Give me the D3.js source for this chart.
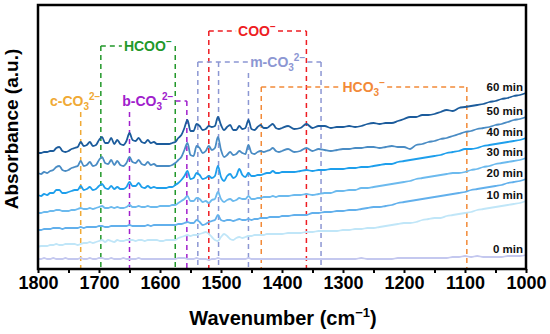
<!DOCTYPE html>
<html lang="en">
  <head>
    <meta charset="UTF-8" />
    <title>In situ DRIFTS spectra</title>
    <script src="https://d3js.org/d3.v7.min.js"></script>
    <style>
      body { margin: 0; background: #fff; }
      svg text { font-family: "Liberation Sans", Arial, sans-serif; font-weight: bold; }
    </style>
  </head>
  <body>
    <div class="chart"></div>
    <script>
      // wavenumber grid (cm-1)
      const wavenumbers = [
        1800, 1795, 1790, 1785, 1780, 1775, 1770, 1765, 1760, 1755,
        1750, 1745, 1740, 1735, 1730, 1725, 1720, 1715, 1710, 1705,
        1700, 1695, 1690, 1685, 1680, 1675, 1670, 1665, 1660, 1655,
        1650, 1645, 1640, 1635, 1630, 1625, 1620, 1615, 1610, 1605,
        1600, 1595, 1590, 1585, 1580, 1575, 1570, 1565, 1560, 1555,
        1550, 1545, 1540, 1535, 1530, 1525, 1520, 1515, 1510, 1505,
        1500, 1495, 1490, 1485, 1480, 1475, 1470, 1465, 1460, 1455,
        1450, 1445, 1440, 1435, 1430, 1425, 1420, 1415, 1410, 1405,
        1400, 1390, 1380, 1370, 1360, 1350, 1340, 1330, 1320, 1310,
        1300, 1290, 1280, 1270, 1260, 1250, 1240, 1230, 1220, 1210,
        1200, 1190, 1180, 1170, 1160, 1150, 1140, 1130, 1120, 1110,
        1100, 1090, 1080, 1070, 1060, 1050, 1040, 1030, 1020, 1010,
        1000,
      ];

      const times = ["0 min", "10 min", "20 min", "30 min", "40 min", "50 min", "60 min"];

      // absorbance (a.u.), same order as wavenumbers
      const abs0 = [
        0.10, 0.10, 0.11, 0.10, 0.10, 0.11, 0.10, 0.10, 0.10, 0.11,
        0.10, 0.10, 0.10, 0.10, 0.11, 0.10, 0.10, 0.11, 0.10, 0.10,
        0.11, 0.11, 0.10, 0.10, 0.11, 0.10, 0.10, 0.10, 0.11, 0.10,
        0.10, 0.10, 0.10, 0.11, 0.10, 0.10, 0.10, 0.10, 0.10, 0.10,
        0.10, 0.10, 0.10, 0.10, 0.10, 0.10, 0.11, 0.11, 0.11, 0.10,
        0.10, 0.10, 0.11, 0.10, 0.10, 0.10, 0.09, 0.10, 0.10, 0.11,
        0.10, 0.10, 0.10, 0.10, 0.10, 0.10, 0.10, 0.10, 0.10, 0.11,
        0.10, 0.10, 0.10, 0.10, 0.10, 0.10, 0.10, 0.10, 0.10, 0.10,
        0.10, 0.10, 0.10, 0.10, 0.10, 0.10, 0.10, 0.10, 0.10, 0.10,
        0.10, 0.10, 0.10, 0.11, 0.10, 0.10, 0.10, 0.10, 0.10, 0.11,
        0.11, 0.11, 0.11, 0.11, 0.11, 0.11, 0.11, 0.11, 0.12, 0.12,
        0.13, 0.12, 0.13, 0.12, 0.12, 0.12, 0.12, 0.13, 0.13, 0.13,
        0.14,
      ];
      const abs10 = [
        0.22, 0.23, 0.23, 0.23, 0.24, 0.24, 0.25, 0.24, 0.24, 0.25,
        0.25, 0.25, 0.25, 0.24, 0.25, 0.26, 0.26, 0.27, 0.26, 0.27,
        0.28, 0.29, 0.27, 0.29, 0.28, 0.27, 0.29, 0.28, 0.28, 0.29,
        0.29, 0.29, 0.28, 0.29, 0.29, 0.28, 0.29, 0.29, 0.29, 0.29,
        0.28, 0.28, 0.29, 0.29, 0.29, 0.29, 0.31, 0.32, 0.33, 0.34,
        0.33, 0.34, 0.34, 0.35, 0.36, 0.37, 0.35, 0.32, 0.29, 0.28,
        0.32, 0.35, 0.33, 0.30, 0.29, 0.31, 0.32, 0.31, 0.32, 0.33,
        0.33, 0.34, 0.34, 0.34, 0.34, 0.35, 0.35, 0.35, 0.35, 0.35,
        0.35, 0.36, 0.36, 0.36, 0.37, 0.37, 0.38, 0.38, 0.38, 0.38,
        0.39, 0.39, 0.40, 0.40, 0.41, 0.41, 0.42, 0.43, 0.44, 0.45,
        0.46, 0.46, 0.47, 0.49, 0.50, 0.51, 0.51, 0.53, 0.54, 0.55,
        0.56, 0.57, 0.59, 0.60, 0.61, 0.62, 0.63, 0.64, 0.65, 0.66,
        0.68,
      ];
      const abs20 = [
        0.39, 0.39, 0.40, 0.40, 0.40, 0.41, 0.41, 0.41, 0.40, 0.41,
        0.41, 0.41, 0.41, 0.41, 0.42, 0.41, 0.42, 0.42, 0.42, 0.42,
        0.43, 0.43, 0.42, 0.42, 0.43, 0.43, 0.43, 0.43, 0.43, 0.43,
        0.44, 0.43, 0.43, 0.43, 0.43, 0.43, 0.44, 0.43, 0.44, 0.44,
        0.44, 0.44, 0.44, 0.44, 0.44, 0.44, 0.45, 0.45, 0.46, 0.47,
        0.46, 0.46, 0.49, 0.47, 0.44, 0.45, 0.47, 0.48, 0.49, 0.54,
        0.49, 0.48, 0.49, 0.49, 0.48, 0.49, 0.50, 0.49, 0.49, 0.50,
        0.49, 0.50, 0.50, 0.51, 0.51, 0.51, 0.52, 0.52, 0.52, 0.52,
        0.53, 0.53, 0.54, 0.54, 0.54, 0.56, 0.56, 0.57, 0.57, 0.58,
        0.58, 0.59, 0.59, 0.60, 0.61, 0.62, 0.62, 0.63, 0.64, 0.66,
        0.67, 0.68, 0.69, 0.70, 0.71, 0.72, 0.73, 0.74, 0.75, 0.76,
        0.77, 0.79, 0.80, 0.81, 0.82, 0.83, 0.84, 0.86, 0.87, 0.88,
        0.90,
      ];
      const abs30 = [
        0.56, 0.56, 0.57, 0.57, 0.58, 0.58, 0.59, 0.59, 0.58, 0.58,
        0.58, 0.59, 0.59, 0.60, 0.61, 0.60, 0.60, 0.61, 0.60, 0.61,
        0.62, 0.63, 0.61, 0.61, 0.62, 0.61, 0.62, 0.61, 0.61, 0.62,
        0.64, 0.62, 0.62, 0.63, 0.62, 0.62, 0.63, 0.62, 0.62, 0.62,
        0.63, 0.63, 0.63, 0.63, 0.64, 0.64, 0.66, 0.68, 0.70, 0.73,
        0.68, 0.68, 0.71, 0.70, 0.67, 0.68, 0.66, 0.69, 0.70, 0.77,
        0.70, 0.67, 0.69, 0.70, 0.68, 0.69, 0.71, 0.70, 0.70, 0.73,
        0.70, 0.70, 0.71, 0.71, 0.72, 0.72, 0.72, 0.73, 0.72, 0.73,
        0.73, 0.73, 0.74, 0.74, 0.75, 0.74, 0.75, 0.76, 0.76, 0.78,
        0.78, 0.79, 0.79, 0.81, 0.81, 0.82, 0.83, 0.84, 0.85, 0.86,
        0.87, 0.88, 0.90, 0.91, 0.92, 0.93, 0.94, 0.95, 0.96, 0.96,
        0.97, 0.99, 1.00, 1.02, 1.03, 1.05, 1.06, 1.07, 1.08, 1.09,
        1.11,
      ];
      const abs40 = [
        0.74, 0.73, 0.75, 0.74, 0.76, 0.76, 0.79, 0.79, 0.76, 0.76,
        0.77, 0.78, 0.79, 0.79, 0.83, 0.79, 0.80, 0.82, 0.79, 0.80,
        0.83, 0.85, 0.81, 0.80, 0.83, 0.80, 0.82, 0.80, 0.80, 0.82,
        0.87, 0.83, 0.83, 0.86, 0.82, 0.81, 0.83, 0.81, 0.82, 0.81,
        0.81, 0.81, 0.81, 0.82, 0.82, 0.84, 0.86, 0.89, 0.93, 0.98,
        0.90, 0.91, 0.96, 0.94, 0.90, 0.91, 0.93, 0.91, 0.93, 1.03,
        0.92, 0.88, 0.93, 0.95, 0.91, 0.93, 1.00, 0.94, 0.92, 0.96,
        0.93, 0.93, 0.94, 0.94, 0.95, 0.96, 0.96, 0.98, 0.96, 0.96,
        0.97, 0.97, 0.97, 0.98, 0.99, 0.98, 0.99, 0.99, 1.00, 1.00,
        1.00, 1.01, 1.01, 1.02, 1.02, 1.03, 1.04, 1.05, 1.05, 1.07,
        1.08, 1.09, 1.10, 1.11, 1.12, 1.13, 1.14, 1.16, 1.17, 1.18,
        1.20, 1.20, 1.21, 1.23, 1.24, 1.25, 1.26, 1.27, 1.28, 1.29,
        1.31,
      ];
      const abs50 = [
        0.96, 0.95, 0.97, 0.96, 0.98, 0.99, 1.02, 1.03, 0.99, 0.98,
        0.99, 1.01, 1.02, 1.03, 1.08, 1.03, 1.04, 1.07, 1.03, 1.04,
        1.09, 1.12, 1.06, 1.05, 1.09, 1.04, 1.08, 1.04, 1.03, 1.06,
        1.12, 1.07, 1.06, 1.09, 1.05, 1.04, 1.07, 1.04, 1.05, 1.03,
        1.03, 1.03, 1.03, 1.03, 1.04, 1.06, 1.09, 1.12, 1.19, 1.26,
        1.14, 1.13, 1.23, 1.21, 1.16, 1.18, 1.23, 1.19, 1.21, 1.32,
        1.19, 1.12, 1.14, 1.17, 1.14, 1.15, 1.18, 1.16, 1.15, 1.24,
        1.16, 1.15, 1.17, 1.18, 1.17, 1.18, 1.19, 1.21, 1.18, 1.17,
        1.18, 1.20, 1.17, 1.18, 1.21, 1.18, 1.20, 1.19, 1.18, 1.19,
        1.20, 1.20, 1.21, 1.21, 1.22, 1.22, 1.21, 1.22, 1.23, 1.22,
        1.22, 1.20, 1.24, 1.25, 1.27, 1.28, 1.30, 1.31, 1.33, 1.35,
        1.37, 1.38, 1.40, 1.41, 1.42, 1.44, 1.45, 1.47, 1.49, 1.50,
        1.52,
      ];
      const abs60 = [
        1.16, 1.16, 1.17, 1.17, 1.18, 1.18, 1.21, 1.22, 1.18, 1.17,
        1.18, 1.20, 1.21, 1.22, 1.27, 1.23, 1.24, 1.27, 1.23, 1.24,
        1.29, 1.32, 1.26, 1.26, 1.31, 1.25, 1.29, 1.25, 1.24, 1.28,
        1.36, 1.29, 1.28, 1.31, 1.27, 1.26, 1.29, 1.26, 1.27, 1.25,
        1.25, 1.25, 1.25, 1.25, 1.26, 1.27, 1.31, 1.34, 1.41, 1.49,
        1.38, 1.38, 1.45, 1.43, 1.39, 1.40, 1.43, 1.42, 1.43, 1.52,
        1.44, 1.39, 1.42, 1.44, 1.39, 1.39, 1.43, 1.40, 1.41, 1.49,
        1.40, 1.39, 1.42, 1.44, 1.41, 1.41, 1.43, 1.45, 1.41, 1.40,
        1.41, 1.43, 1.40, 1.41, 1.45, 1.41, 1.43, 1.43, 1.41, 1.42,
        1.42, 1.43, 1.42, 1.43, 1.45, 1.46, 1.45, 1.46, 1.46, 1.48,
        1.50, 1.52, 1.52, 1.54, 1.54, 1.55, 1.57, 1.59, 1.58, 1.61,
        1.62, 1.63, 1.64, 1.65, 1.67, 1.68, 1.70, 1.71, 1.73, 1.74,
        1.76,
      ];
      const spectra = [abs0, abs10, abs20, abs30, abs40, abs50, abs60];

      // band assignments: label pieces and peak positions (cm-1)
      const bandLabels = [
        [["c-CO"], ["3", "sub"], ["2−", "sup"]],
        [["HCOO"], ["−", "sup"]],
        [["b-CO"], ["3", "sub"], ["2−", "sup"]],
        [["COO"], ["−", "sup"]],
        [["m-CO"], ["3", "sub"], ["2−", "sup"]],
        [["HCO"], ["3", "sub"], ["−", "sup"]],
      ];
      const bandPeaks = [
        [1730],
        [1697, 1575],
        [1650, 1556],
        [1520, 1360],
        [1538, 1504, 1455, 1336],
        [1434, 1097],
      ];

      // styling / placement of the assignments
      const lineColors = ["#c4c8ef", "#c0e6f8", "#62b0ec", "#6cbaee", "#1e9fec", "#4a8cc4", "#1c5c9c"];
      const bandColors = ["#f0a934", "#22982a", "#a020cc", "#ee1d23", "#8c97d3", "#f28a38"];
      const bandTop = [101, 46, 101, 31, 62, 87];
      const bandLabelAt = [1739, 1620, 1620, 1441, 1407, 1266];

      const width = 550;
      const height = 334;

      const svg = d3
        .select(".chart")
        .append("svg")
        .attr("width", width)
        .attr("height", height);

      const x = d3.scaleLinear().domain([1800, 1000]).range([38, 526]);
      const y = d3.scaleLinear().domain([0, 2.64]).range([269, 5]);
      const bottom = y(0);

      // 上下標文字
      function richText(sel, parts, small) {
        let shift = 0;
        parts.forEach(([t, kind]) => {
          const target = kind === "sub" ? 4 : kind === "sup" ? -6 : 0;
          sel
            .append("tspan")
            .attr("dy", target - shift)
            .attr("font-size", kind ? small : null)
            .text(t);
          shift = target;
        });
      }

      // band assignment brackets
      const dash = "5,4";
      bandLabels.forEach((parts, i) => {
        const color = bandColors[i];
        const top = bandTop[i];
        const g = svg.append("g");
        const label = g
          .append("text")
          .attr("x", x(bandLabelAt[i]))
          .attr("y", top + 5)
          .attr("text-anchor", "middle")
          .attr("font-size", 14)
          .attr("fill", color);
        richText(label, parts, 10);
        const bb = label.node().getBBox();
        const x0 = bb.x - 2;
        const x1 = bb.x + bb.width + 2;
        const xs = bandPeaks[i].map((d) => x(d));
        const left = d3.min(xs);
        const right = d3.max(xs);

        const segs = [];
        if (left < x0 - 2) segs.push([[left, top], [x0, top]]);
        if (right > x1 + 2) segs.push([[x1, top], [right, top]]);
        xs.forEach((px) => {
          const inside = px >= x0 && px <= x1;
          segs.push([[px, inside ? top + 11 : top], [px, bottom]]);
        });

        g.selectAll("path")
          .data(segs)
          .join("path")
          .attr("d", (d) => d3.line()(d))
          .attr("fill", "none")
          .attr("stroke", color)
          .attr("stroke-width", 1.5)
          .attr("stroke-dasharray", dash);
      });

      // spectra
      const line = d3
        .line()
        .x((d, i) => x(wavenumbers[i]))
        .y((d) => y(d))
        .curve(d3.curveMonotoneX);

      svg
        .append("g")
        .selectAll("path")
        .data(spectra)
        .join("path")
        .attr("d", line)
        .attr("fill", "none")
        .attr("stroke", (d, i) => lineColors[i])
        .attr("stroke-width", 1.8)
        .attr("stroke-linejoin", "round");

      // time labels at the right end
      svg
        .append("g")
        .selectAll("text")
        .data(spectra)
        .join("text")
        .attr("x", 523)
        .attr("y", (d) => y(d[d.length - 1]) - 2)
        .attr("text-anchor", "end")
        .attr("font-size", 11.5)
        .attr("fill", "#111")
        .text((d, i) => times[i]);

      // x axis
      const xAxis = d3
        .axisBottom(x)
        .tickValues(d3.range(1000, 1801, 50))
        .tickSize(4)
        .tickPadding(3)
        .tickFormat((d) => (d % 100 === 0 ? d : ""));

      svg
        .append("g")
        .attr("transform", `translate(0,${bottom})`)
        .call(xAxis)
        .call((g) => g.select(".domain").remove())
        .call((g) => g.selectAll("line").attr("stroke", "#000").attr("stroke-width", 2))
        .call((g) => g.selectAll("text").attr("font-size", 18).attr("fill", "#000"));

      // frame
      svg
        .append("rect")
        .attr("x", 38)
        .attr("y", 5)
        .attr("width", 488)
        .attr("height", bottom - 5)
        .attr("fill", "none")
        .attr("stroke", "#000")
        .attr("stroke-width", 2.5);

      // axis titles
      const xt = svg
        .append("text")
        .attr("x", 283)
        .attr("y", 325)
        .attr("text-anchor", "middle")
        .attr("font-size", 20);
      xt.append("tspan").text("Wavenumber (cm");
      xt.append("tspan").attr("dy", -8).attr("font-size", 13).text("−1");
      xt.append("tspan").attr("dy", 8).text(")");

      svg
        .append("text")
        .attr("transform", "translate(18,129) rotate(-90)")
        .attr("text-anchor", "middle")
        .attr("font-size", 19)
        .text("Absorbance (a.u.)");
    </script>
  </body>
</html>
